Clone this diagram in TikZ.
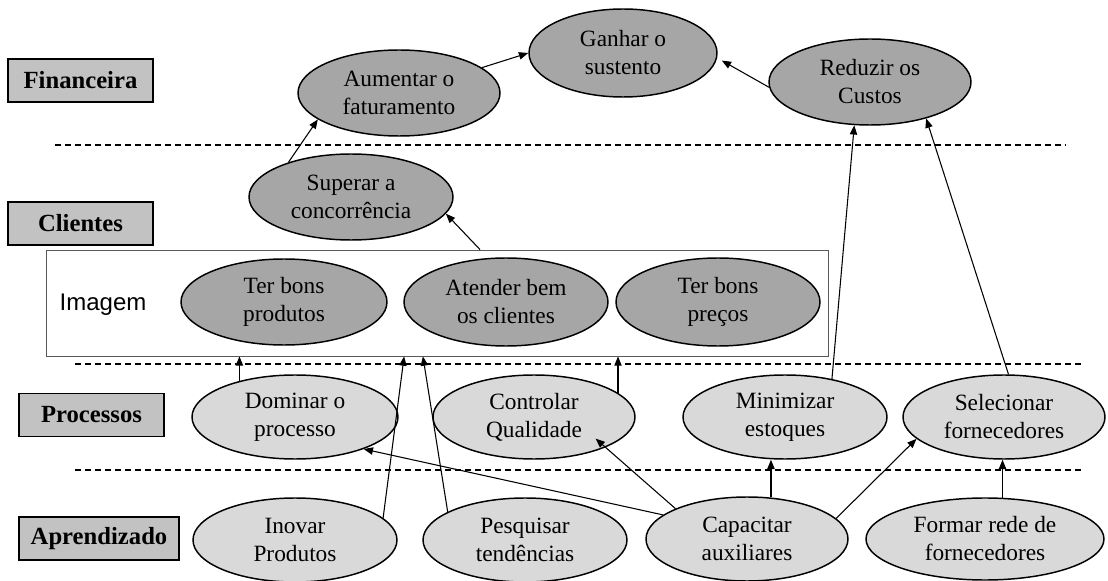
\documentclass[tikz,border=0pt]{standalone}
\usepackage{fontspec}
\setmainfont{Liberation Serif}
\newfontfamily\labelsans{Liberation Sans}
\usetikzlibrary{shapes.geometric,arrows.meta,calc}
\definecolor{goaldark}{gray}{0.65}
\definecolor{goallight}{gray}{0.85}
\definecolor{layerfill}{gray}{0.76}

\begin{document}
\begin{tikzpicture}[x=0.75pt,y=-0.75pt,
  goal/.style={ellipse,draw=black,line width=1.1pt,inner sep=0pt,align=center,
    font=\fontsize{17.5}{21}\selectfont},
  rad/.style 2 args={minimum width=#1*1.5pt,minimum height=#2*1.5pt},
  darkgoal/.style={goal,fill=goaldark},
  lightgoal/.style={goal,fill=goallight},
  layer/.style={draw=black,line width=1.1pt,fill=layerfill,inner sep=0pt,
    minimum height=32.5pt,font=\bfseries\fontsize{18.5}{20}\selectfont},
  link/.style={line width=0.8pt,-{Triangle[length=7pt,width=5.5pt]}},
  divider/.style={line width=0.8pt,dash pattern=on 4.5pt off 3pt},
]
\useasboundingbox (0,0) rectangle (1108,581);

% layer dividers
\draw[divider] (55,145) -- (1066,145);
\draw[divider] (75,364) -- (1085,364);
\draw[divider] (75,470) -- (1085,470);

% perspective labels
\node[layer,minimum width=108.75pt] (fin) at (80.5,80.5) {Financeira};
\node[layer,minimum width=108.75pt] (cli) at (80.5,223.5) {Clientes};
\node[layer,minimum width=108.75pt] (pro) at (91.5,415) {Processos};
\node[layer,minimum width=120pt] (apr) at (99,538.5) {Aprendizado};

% image group frame
\node[draw=black!65,line width=0.6pt,inner sep=0pt,
      minimum width=586.5pt,minimum height=79.5pt] (img) at (437,303) {};
\node[font=\labelsans\fontsize{18}{20}\selectfont] (imgtxt) at (103,305) {Imagem};

% financial goals
\node[darkgoal,rad={101}{43}] (aum) at (399,93) {Aumentar o\\faturamento};
\node[darkgoal,rad={94}{44}]  (gan) at (623,53) {Ganhar o\\sustento};
\node[darkgoal,rad={101}{43}] (red) at (870,82) {Reduzir os\\Custos};

% customer goals
\node[darkgoal,rad={102}{43}] (sup) at (351,197) {Superar a\\concorrência};
\node[darkgoal,rad={103}{43}] (ter) at (284,302) {Ter bons\\produtos};
\node[darkgoal,rad={102}{44}] (ate) at (506,302) {Atender bem\\os clientes};
\node[darkgoal,rad={102}{44}] (pre) at (718,302) {Ter bons\\preços};

% process goals
\node[lightgoal,rad={103}{42}] (dom) at (295,417) {Dominar o\\processo};
\node[lightgoal,rad={101}{42}] (con) at (534,417) {Controlar\\Qualidade};
\node[lightgoal,rad={102}{42}] (min) at (785,417) {Minimizar\\estoques};
\node[lightgoal,rad={101}{42}] (sel) at (1004,417) {Selecionar\\fornecedores};

% learning goals
\node[lightgoal,rad={102}{42}] (ino) at (295,540) {Inovar\\Produtos};
\node[lightgoal,rad={102}{42}] (pes) at (525,540) {Pesquisar\\tendências};
\node[lightgoal,rad={101}{42}] (cap) at (747,539) {Capacitar\\auxiliares};
\node[lightgoal,rad={119}{41}] (for) at (985,539) {Formar rede de\\fornecedores};

% cause and effect links
\draw[link] (sup.151) -- (aum.198);
\draw[link] (aum.17) -- (gan.180);
\draw[link,shorten >=4pt] (red.183) -- (gan.-3);
\draw[link] ($(img.north west)!0.555!(img.north east)$) -- (sup.-10);
\draw[link] (min.39) -- (red.250);
\draw[link] (sel.84) -- (red.-33);
\draw[link] (dom.147) -- (dom.147 |- img.south);
\draw[link] (con.16) -- (con.16 |- img.south);
\draw[link] (ino.14) -- ($(img.south west)!0.458!(img.south east)$);
\draw[link] (pes.160) -- ($(img.south west)!0.482!(img.south east)$);
\draw[link] (cap.164) -- (dom.-25);
\draw[link,shorten >=-10pt] (cap.157) -- (con.-23);
\draw[link] (cap.60) -- (cap.60 |- min.south);
\draw[link] (cap.13) -- (sel.194);
\draw[link] (for.67) -- (for.67 |- sel.south);
\end{tikzpicture}
\end{document}
